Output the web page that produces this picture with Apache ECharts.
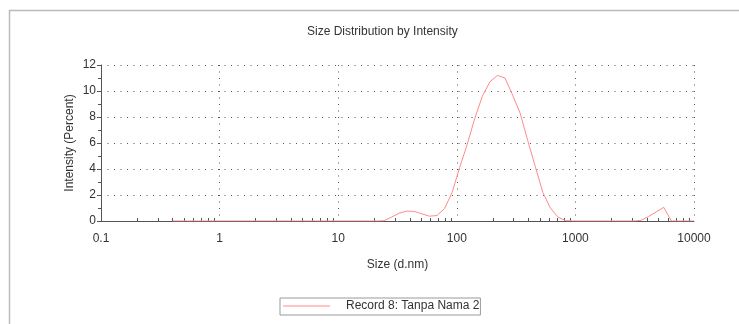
<!DOCTYPE html>
<html>
<head>
<meta charset="utf-8">
<script src="https://cdn.jsdelivr.net/npm/echarts@6/dist/echarts.min.js"></script>
<style>
  html, body { margin: 0; padding: 0; background: #fff; }
  #chart { width: 739px; height: 324px; }
</style>
</head>
<body>
<div id="chart"></div>
<script>
// Size bins (d.nm)
const sizes = [0.4, 0.4632, 0.5365, 0.6213, 0.7195, 0.8332, 0.9649, 1.117, 1.294, 1.499,
  1.736, 2.01, 2.328, 2.696, 3.122, 3.615, 4.187, 4.849, 5.615, 6.503,
  7.531, 8.721, 10.1, 11.7, 13.54, 15.69, 18.17, 21.04, 24.36, 28.21,
  32.67, 37.84, 43.82, 50.75, 58.77, 68.06, 78.82, 91.28, 105.7, 122.4,
  141.8, 164.2, 190.1, 220.2, 255.0, 295.3, 342.0, 396.1, 458.7, 531.2,
  615.1, 712.4, 825.0, 955.4, 1106, 1281, 1484, 1718, 1990, 2305,
  2669, 3091, 3580, 4145, 4801, 5560, 6439, 7456, 8635, 10000];
// Intensity (Percent)
const intensity = [0, 0, 0, 0, 0, 0, 0, 0, 0, 0,
  0, 0, 0, 0, 0, 0, 0, 0, 0, 0,
  0, 0, 0, 0, 0, 0, 0, 0, 0.02, 0.3,
  0.6, 0.76, 0.74, 0.55, 0.37, 0.42, 0.95, 2.2, 4.1, 5.9,
  7.9, 9.6, 10.7, 11.2, 11.0, 9.7, 8.3, 6.2, 4.2, 2.2,
  1.0, 0.3, 0.03, 0, 0, 0, 0, 0, 0, 0,
  0, 0, 0.05, 0.35, 0.7, 1.05, 0, 0, 0, 0];
const seriesName = 'Record 8: Tanpa Nama 2';
const titleText = 'Size Distribution by Intensity';
const xName = 'Size (d.nm)';
const yName = 'Intensity (Percent)';
const decades = [0.1, 1, 10, 100, 1000];
const minorMultipliers = [2, 3, 4, 5, 6, 7, 8, 9];

const FONT = 'Liberation Sans, Arial, sans-serif';
const TXT = '#333';
const RED = '#ff8a8a';

const chart = echarts.init(document.getElementById('chart'), null, { renderer: 'canvas' });

const option = {
  animation: false,
  backgroundColor: '#fff',
  title: {
    text: titleText,
    left: 307, top: 26, padding: 0,
    textStyle: { fontFamily: FONT, fontSize: 12, fontWeight: 'normal', color: TXT }
  },
  grid: { left: 101, right: 45, top: 65, bottom: 103, containLabel: false },
  legend: {
    show: true,
    left: 280, top: 298,
    padding: [2, 1, 3, 3],
    itemWidth: 47, itemHeight: 1,
    icon: 'rect',
    borderColor: '#999', borderWidth: 1,
    textStyle: { fontFamily: FONT, fontSize: 12, color: TXT, padding: [0, 0, 0, 11] },
    data: [seriesName]
  },
  xAxis: {
    type: 'log', logBase: 10, min: 0.1, max: 10000,
    name: xName, nameLocation: 'middle', nameGap: 38, nameMoveOverlap: false,
    nameTextStyle: { fontFamily: FONT, fontSize: 12, color: TXT },
    axisLine: { show: true, lineStyle: { color: '#555', width: 1 } },
    axisTick: { show: false },
    axisLabel: {
      fontFamily: FONT, fontSize: 12, color: TXT, margin: 12,
      formatter: function (v) { return String(+Number(v).toPrecision(6)); }
    },
    splitLine: { show: true, lineStyle: { color: '#555', width: 1, type: [1, 5.5] } }
  },
  yAxis: {
    type: 'value', min: 0, max: 12, interval: 2,
    name: yName, nameLocation: 'middle', nameGap: 25, nameMoveOverlap: false,
    nameTextStyle: { fontFamily: FONT, fontSize: 12, color: TXT },
    axisLine: { show: true, lineStyle: { color: '#555', width: 1 } },
    axisTick: { show: true, length: 4, lineStyle: { color: '#555' } },
    minorTick: { show: true, splitNumber: 2, length: 3, lineStyle: { color: '#555' } },
    axisLabel: { fontFamily: FONT, fontSize: 12, color: TXT, margin: 5 },
    splitLine: { show: true, lineStyle: { color: '#555', width: 1, type: [1, 5.5] } }
  },
  series: [{
    name: seriesName,
    type: 'line',
    data: sizes.map((s, i) => [s, intensity[i]]),
    showSymbol: false, symbol: 'none',
    lineStyle: { color: RED, width: 1 },
    itemStyle: { color: RED },
    color: RED,
    z: 5
  }],
  graphic: [{
    type: 'polyline', silent: true,
    shape: { points: [[9.5, 324], [9.5, 10.5], [739, 10.5]] },
    style: { stroke: '#bbb', lineWidth: 1.5, fill: null }
  }]
};
chart.setOption(option);

// minor ticks of the log x axis at 2..9 x each decade, placed via the axis scale
const y0 = chart.convertToPixel({ yAxisIndex: 0 }, 0);
const ticks = [];
decades.forEach(d => minorMultipliers.forEach(m => {
  const px = Math.round(chart.convertToPixel({ xAxisIndex: 0 }, d * m)) + 0.5;
  ticks.push({
    type: 'line', silent: true,
    shape: { x1: px, y1: y0, x2: px, y2: y0 - 3 },
    style: { stroke: '#555', lineWidth: 1 }
  });
}));
chart.setOption({ graphic: option.graphic.concat(ticks) });
</script>
</body>
</html>
